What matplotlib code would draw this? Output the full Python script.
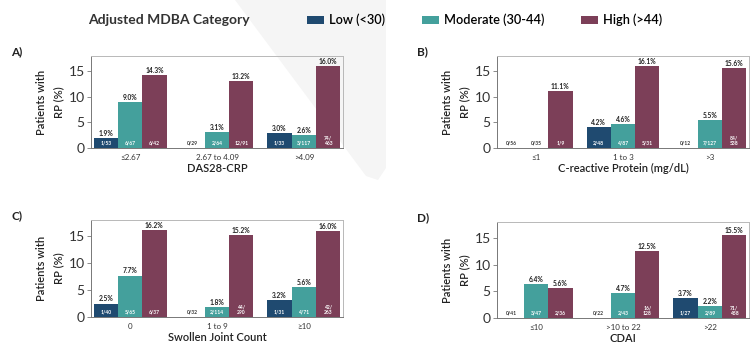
import numpy as np
import matplotlib.pyplot as plt
from matplotlib.patches import Patch, Polygon

plt.rcParams['font.family'] = ['Lato', 'DejaVu Sans']

# MDBA categories and colours
categories = ['Low (<30)', 'Moderate (30-44)', 'High (>44)']
colors = ['#1f4a70', '#44a09c', '#7c3f58']

# Panel A: DAS28-CRP
das_groups = ['≤2.67', '2.67 to 4.09', '>4.09']
das_pct = [[1.9, 0.0, 3.0], [9.0, 3.1, 2.6], [14.3, 13.2, 16.0]]
das_n = [['1/53', '0/29', '1/33'], ['6/67', '2/64', '3/117'], ['6/42', '12/91', '74/\n463']]

# Panel B: C-reactive protein
crp_groups = ['≤1', '1 to 3', '>3']
crp_pct = [[0.0, 4.2, 0.0], [0.0, 4.6, 5.5], [11.1, 16.1, 15.6]]
crp_n = [['0/56', '2/48', '0/12'], ['0/35', '4/87', '7/127'], ['1/9', '5/31', '84/\n538']]

# Panel C: swollen joint count
sjc_groups = ['0', '1 to 9', '≥10']
sjc_pct = [[2.5, 0.0, 3.2], [7.7, 1.8, 5.6], [16.2, 15.2, 16.0]]
sjc_n = [['1/40', '0/32', '1/31'], ['5/65', '2/114', '4/71'], ['6/37', '44/\n290', '42/\n263']]

# Panel D: CDAI
cdai_groups = ['≤10', '>10 to 22', '>22']
cdai_pct = [[0.0, 0.0, 3.7], [6.4, 4.7, 2.2], [5.6, 12.5, 15.5]]
cdai_n = [['0/41', '0/22', '1/27'], ['3/47', '2/43', '2/89'], ['2/36', '16/\n128', '71/\n458']]

panels = [
    ('A)', das_groups, das_pct, das_n, 'DAS28-CRP'),
    ('B)', crp_groups, crp_pct, crp_n, 'C-reactive Protein (mg/dL)'),
    ('C)', sjc_groups, sjc_pct, sjc_n, 'Swollen Joint Count'),
    ('D)', cdai_groups, cdai_pct, cdai_n, 'CDAI'),
]

W, H = 751, 348
fig = plt.figure(figsize=(W / 100, H / 100), dpi=100)

# faint background shape behind the panels
shape = [(235, 0), (386, 0), (386, 168), (378, 180), (366, 176)]
fig.patches.append(Polygon([(px / W, 1 - py / H) for px, py in shape], closed=True,
                           transform=fig.transFigure, facecolor='#f5f5f5',
                           edgecolor='none', zorder=-1))

# axes boxes in pixels: left, top, width, height
boxes = [(91, 56, 252, 92), (497, 56, 252, 92), (91, 220, 252, 97), (497, 222, 252, 96)]

width = 0.28
for (tag, groups, pct, counts, xlabel), (l, t, w, h) in zip(panels, boxes):
    ax = fig.add_axes([l / W, 1 - (t + h) / H, w / W, h / H])
    ax.patch.set_alpha(0)
    x = np.arange(len(groups))
    for i in range(3):
        xs = x + (i - 1) * width
        ax.bar(xs, pct[i], width, color=colors[i])
        for xi, v, n in zip(xs, pct[i], counts[i]):
            if v > 0:
                ax.text(xi, v + 0.2, f'{v:.1f}%', ha='center', va='bottom',
                        fontsize=4.8, fontweight='bold', color='#222222')
                ax.text(xi, 0.4, n, ha='center', va='bottom', fontsize=3.6,
                        fontweight='bold', color='white', linespacing=1.1)
            else:
                ax.text(xi, 0.4, n, ha='center', va='bottom', fontsize=3.6,
                        fontweight='bold', color='#333333')
    ax.set_xlim(-0.45, 2.45)
    ax.set_ylim(0, 18)
    ax.set_yticks([0, 5, 10, 15])
    ax.set_xticks(x)
    ax.set_xticklabels(groups, fontsize=5.8, color='#333333')
    ax.tick_params(axis='x', length=0, pad=4)
    ax.tick_params(axis='y', labelsize=10, length=3, width=0.6, color='#777777',
                   pad=1.5, labelcolor='#333333')
    ax.set_xlabel(xlabel, fontsize=8, fontweight='semibold', color='#222222', labelpad=2)
    ax.set_ylabel('Patients with\nRP (%)', fontsize=8, fontweight='semibold',
                  color='#222222', labelpad=3, linespacing=1.7)
    for side in ['top', 'right']:
        ax.spines[side].set_color('#b8b8b8')
        ax.spines[side].set_linewidth(0.7)
    for side in ['left', 'bottom']:
        ax.spines[side].set_color('#777777')
        ax.spines[side].set_linewidth(0.7)
    fig.text((l - 80) / W, 1 - (t - 4) / H, tag, fontsize=8.5, fontweight='bold',
             color='#222222', ha='left', va='center')

# legend row
fig.text(88 / W, 1 - 20 / H, 'Adjusted MDBA Category', fontsize=10, fontweight='bold',
         color='#333333', ha='left', va='center')
handles = [Patch(facecolor=c) for c in colors]
fig.legend(handles, categories, loc='center left', bbox_to_anchor=(301 / W, 1 - 20 / H),
           ncol=3, frameon=False, handlelength=1.3, handleheight=0.55,
           handletextpad=0.4, columnspacing=2.9, borderpad=0,
           prop={'weight': 'semibold', 'size': 9.2})

fig.savefig('out.png', dpi=100)
